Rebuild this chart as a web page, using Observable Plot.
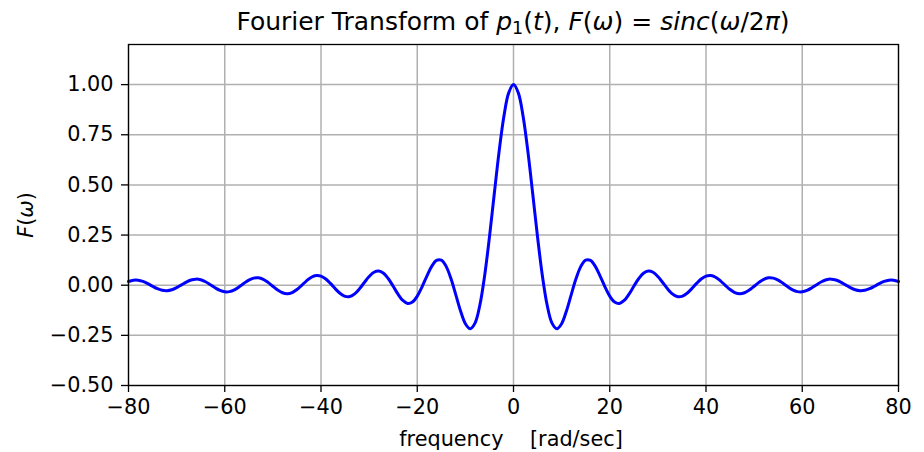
<!DOCTYPE html>
<html>
<head>
<meta charset="utf-8">
<script src="https://cdn.jsdelivr.net/npm/d3@7"></script>
<script src="https://cdn.jsdelivr.net/npm/@observablehq/plot@0.6"></script>
<style>
  html, body { margin: 0; padding: 0; background: #fff; }
  #fig { position: relative; width: 924px; height: 452px; font-family: "DejaVu Sans", sans-serif; color: #000; }
  #title { position: absolute; left: 128px; width: 770px; top: 9px; line-height: 1; text-align: center; font-size: 25px; white-space: nowrap; }
  #title i { font-style: italic; }
  #title sub { font-size: 17.5px; vertical-align: -4px; line-height: 0; }
  #chart { position: absolute; left: 0; top: 40px; }
  #ylabel { position: absolute; left: 26px; top: 215px; font-size: 20.8px; line-height: 1; transform: translate(-50%, -50%) rotate(-90deg); white-space: nowrap; }
  #xlabel { position: absolute; left: 511px; top: 429px; font-size: 20.8px; line-height: 1; transform: translateX(-50%); white-space: pre; }
</style>
</head>
<body>
<div id="fig">
  <div id="title">Fourier Transform of <i>p</i><sub>1</sub>(<i>t</i>), <i>F</i>(<i>ω</i>) = <i>sinc</i>(<i>ω</i>/2<i>π</i>)</div>
  <div id="chart"></div>
  <div id="ylabel"><i>F</i>(<i>ω</i>)</div>
  <div id="xlabel">frequency    [rad/sec]</div>
</div>
<script>
// Sample frequencies (rad/sec), one per unit from -80 to 80
const omega = d3.range(-80, 81, 1);

// F(ω) at each sample frequency
const F = [
  0.0186, 0.0246, 0.0247, 0.0187, 0.0078, -0.0053, -0.0174, -0.0255, -0.0275, -0.0228,
  -0.0122, 0.0017, 0.0156, 0.0260, 0.0303, 0.0272, 0.0172, 0.0027, -0.0130, -0.0260,
  -0.0329, -0.0319, -0.0229, -0.0079, 0.0097, 0.0254, 0.0354, 0.0370, 0.0293, 0.0141,
  -0.0053, -0.0241, -0.0377, -0.0425, -0.0368, -0.0217, -0.0004, 0.0220, 0.0398, 0.0486,
  0.0456, 0.0311, 0.0079, -0.0185, -0.0417, -0.0557, -0.0566, -0.0432, -0.0180, 0.0133,
  0.0434, 0.0645, 0.0708, 0.0595, 0.0323, -0.0053, -0.0447, -0.0761, -0.0909, -0.0838,
  -0.0544, -0.0079, 0.0458, 0.0939, 0.1237, 0.1251, 0.0939, 0.0331, -0.0466, -0.1283,
  -0.1918, -0.2172, -0.1892, -0.1002, 0.0470, 0.2394, 0.4546, 0.6650, 0.8415, 0.9589,
  1.0000,
  0.9589, 0.8415, 0.6650, 0.4546, 0.2394, 0.0470, -0.1002, -0.1892, -0.2172, -0.1918,
  -0.1283, -0.0466, 0.0331, 0.0939, 0.1251, 0.1237, 0.0939, 0.0458, -0.0079, -0.0544,
  -0.0838, -0.0909, -0.0761, -0.0447, -0.0053, 0.0323, 0.0595, 0.0708, 0.0645, 0.0434,
  0.0133, -0.0180, -0.0432, -0.0566, -0.0557, -0.0417, -0.0185, 0.0079, 0.0311, 0.0456,
  0.0486, 0.0398, 0.0220, -0.0004, -0.0217, -0.0368, -0.0425, -0.0377, -0.0241, -0.0053,
  0.0141, 0.0293, 0.0370, 0.0354, 0.0254, 0.0097, -0.0079, -0.0229, -0.0319, -0.0329,
  -0.0260, -0.0130, 0.0027, 0.0172, 0.0272, 0.0303, 0.0260, 0.0156, 0.0017, -0.0122,
  -0.0228, -0.0275, -0.0255, -0.0174, -0.0053, 0.0078, 0.0187, 0.0247, 0.0246, 0.0186
];

const xTicks = [-80, -60, -40, -20, 0, 20, 40, 60, 80];
const yTicks = [-0.5, -0.25, 0, 0.25, 0.5, 0.75, 1.0];

const data = omega.map((w, i) => ({w, f: F[i]}));

const chart = Plot.plot({
  width: 924,
  height: 412,
  marginLeft: 128,
  marginRight: 26,
  marginTop: 4,
  marginBottom: 67,
  style: {fontFamily: "DejaVu Sans, sans-serif", fontSize: "20.8px", color: "#000", background: "#fff"},
  x: {domain: [-80, 80]},
  y: {domain: [-0.5, 1.2]},
  marks: [
    Plot.gridX(xTicks, {stroke: "#b0b0b0", strokeOpacity: 1, strokeWidth: 1.5}),
    Plot.gridY(yTicks, {stroke: "#b0b0b0", strokeOpacity: 1, strokeWidth: 1.5}),
    Plot.axisX(xTicks, {tickSize: 7, tickPadding: 7, label: null, tickFormat: d3.format("d"), fontSize: 20.8, strokeWidth: 1.3}),
    Plot.axisY(yTicks, {tickSize: 7, tickPadding: 8, label: null, tickFormat: d3.format(".2f"), fontSize: 20.8, strokeWidth: 1.3}),
    Plot.line(data, {x: "w", y: "f", stroke: "blue", strokeWidth: 3, curve: "catmull-rom"}),
    Plot.frame({stroke: "#000", strokeWidth: 1.3})
  ]
});

document.getElementById("chart").appendChild(chart);
</script>
</body>
</html>
